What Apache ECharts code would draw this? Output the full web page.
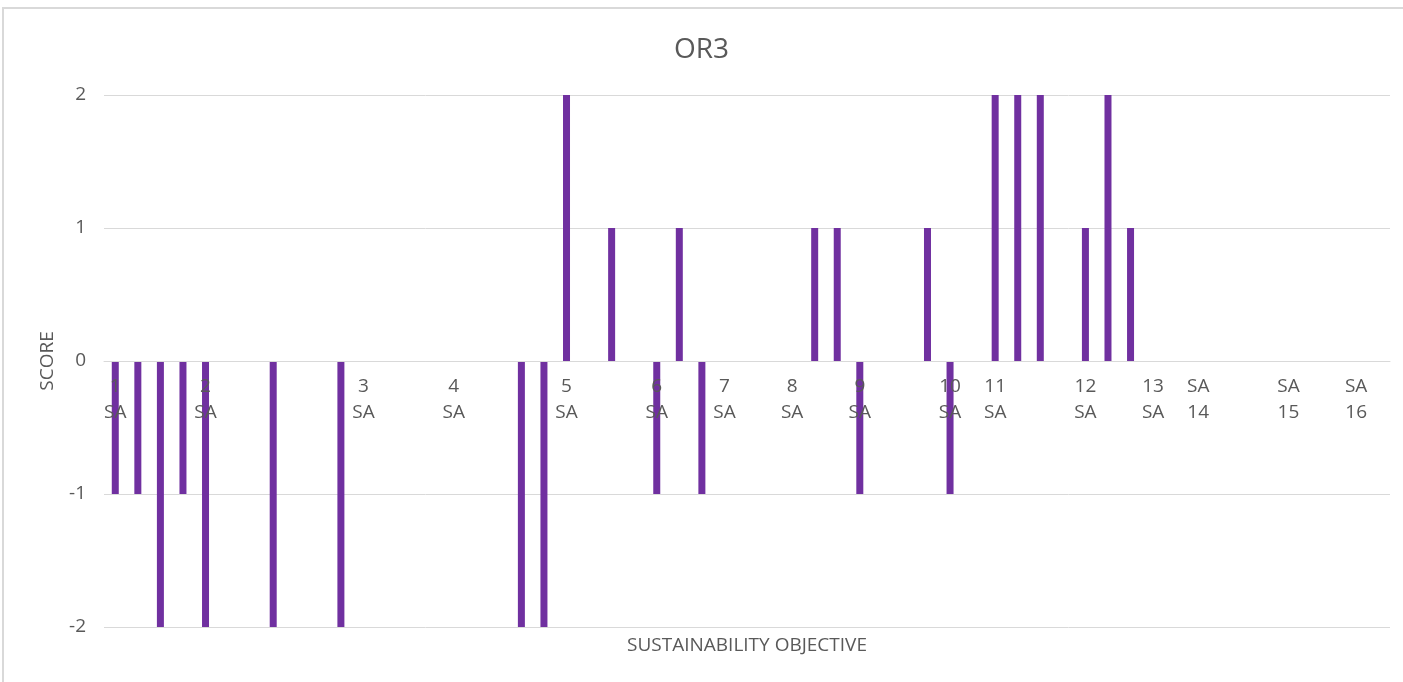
<!DOCTYPE html>
<html>
<head>
<meta charset="utf-8">
<script src="https://cdn.jsdelivr.net/npm/echarts@6/dist/echarts.min.js"></script>
<style>
  html, body { margin: 0; padding: 0; background: #fff; }
  #main { width: 1403px; height: 682px; }
</style>
</head>
<body>
<div id="main"></div>
<script>
// one category per bar slot, only the first slot of each objective is labelled
var categories = [
  '1\nSA', '', '', '', '2\nSA', '', '', '', '', '', '',
  '3\nSA', '', '', '', '4\nSA', '', '', '', '', '5\nSA', '', '', '',
  '6\nSA', '', '', '7\nSA', '', '', '8\nSA', '', '', '9\nSA', '', '', '',
  '10\nSA', '', '11\nSA', '', '', '', '12\nSA', '', '', '13\nSA', '',
  'SA\n14', '', '', '', 'SA\n15', '', '', 'SA\n16', ''
];
var scores = [
  -1, -1, -2, -1, -2, null, null, -2, null, null, -2,
  null, null, null, null, null, null, null, -2, -2, 2, null, 1, null,
  -1, 1, -1, null, null, null, null, 1, 1, -1, null, null, 1,
  -1, null, 2, 2, 2, null, 1, 2, 1, null, null,
  null, null, null, null, null, null, null, null, null
];
var yTicks = [-2, -1, 0, 1, 2];

var myChart = echarts.init(document.getElementById('main'));
myChart.setOption({
  animation: false,
  textStyle: { fontFamily: 'Open Sans' },
  title: {
    text: 'OR3',
    left: 'center',
    top: 31,
    textStyle: { color: '#595959', fontSize: 28, fontWeight: 'normal', fontFamily: 'Open Sans' }
  },
  graphic: [
    {
      type: 'rect',
      shape: { x: 3, y: 8, width: 1420, height: 700 },
      style: { fill: null, stroke: '#d9d9d9', lineWidth: 2 },
      silent: true
    },
    {
      type: 'text',
      x: 747,
      y: 646,
      style: {
        text: 'SUSTAINABILITY OBJECTIVE',
        fill: '#595959',
        font: '19px "Open Sans"',
        align: 'center',
        verticalAlign: 'middle'
      }
    }
  ],
  grid: { left: 104, right: 13, top: 95, bottom: 55, containLabel: false, outerBoundsMode: 'none' },
  xAxis: {
    type: 'category',
    data: categories,
    // axis sits on the zero line, labels hang just below it and over the bars
    offset: -266,
    z: 5,
    axisLine: { onZero: false, lineStyle: { color: '#d9d9d9' } },
    axisTick: { show: false },
    axisLabel: {
      interval: 0,
      color: '#595959',
      fontSize: 19,
      lineHeight: 26,
      margin: 13
    }
  },
  yAxis: {
    type: 'value',
    min: yTicks[0],
    max: yTicks[yTicks.length - 1],
    interval: 1,
    name: 'SCORE',
    nameLocation: 'middle',
    nameRotate: 90,
    nameGap: 47,
    nameTextStyle: { color: '#595959', fontSize: 19 },
    axisLine: { show: false },
    axisTick: { show: false },
    axisLabel: { color: '#595959', fontSize: 19, margin: 18 },
    splitLine: { lineStyle: { color: '#d9d9d9' } }
  },
  series: [
    {
      type: 'bar',
      data: scores,
      barWidth: 7,
      itemStyle: { color: '#7030A0' }
    }
  ]
});
</script>
</body>
</html>
